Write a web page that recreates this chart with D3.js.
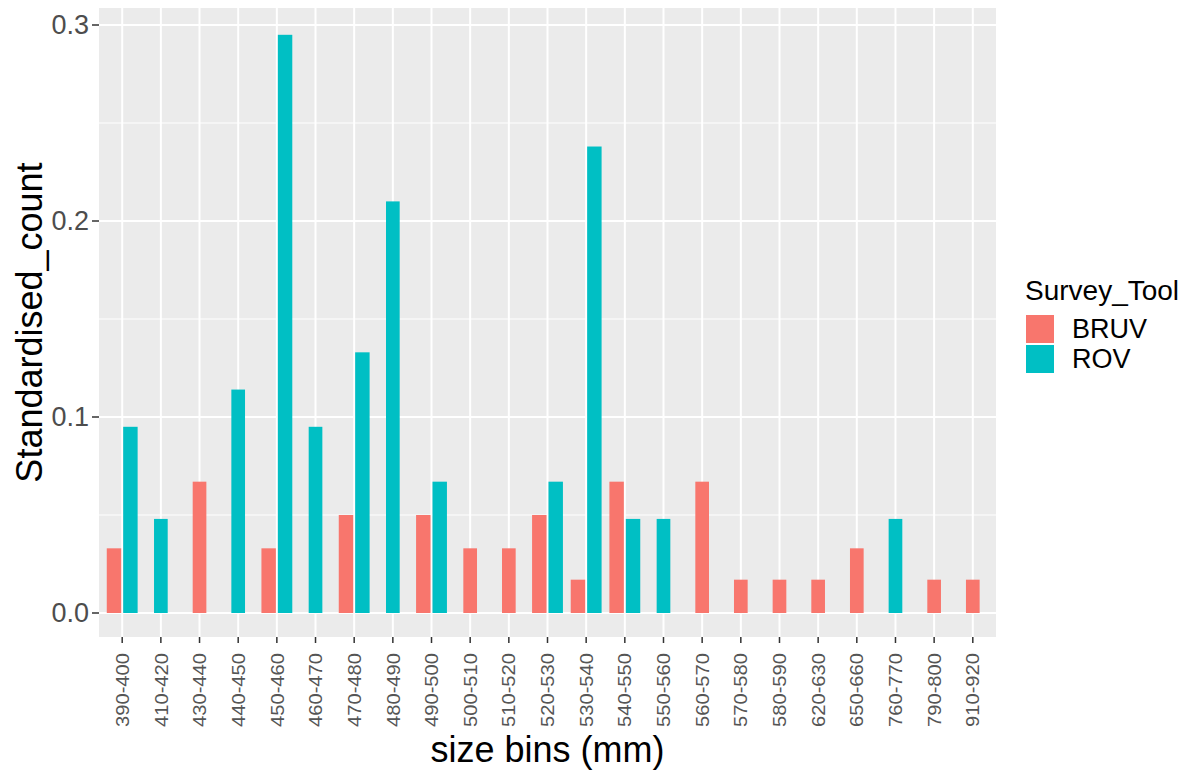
<!DOCTYPE html>
<html>
<head>
<meta charset="utf-8">
<script src="https://cdn.jsdelivr.net/npm/d3@7"></script>
<style>
  html, body { margin: 0; padding: 0; background: #fff; }
  svg { display: block; font-family: "Liberation Sans", Arial, sans-serif; }
</style>
</head>
<body>
<svg id="chart" width="1190" height="771"></svg>
<script>
const categories = ["390-400","410-420","430-440","440-450","450-460","460-470","470-480","480-490","490-500","500-510","510-520","520-530","530-540","540-550","550-560","560-570","570-580","580-590","620-630","650-660","760-770","790-800","910-920"];
const seriesNames = ["BRUV", "ROV"];
const bruvValues = [0.033, null, 0.067, null, 0.033, null, 0.05, null, 0.05, 0.033, 0.033, 0.05, 0.017, 0.067, null, 0.067, 0.017, 0.017, 0.017, 0.033, null, 0.017, 0.017];
const rovValues  = [0.095, 0.048, null, 0.114, 0.295, 0.095, 0.133, 0.21, 0.067, null, null, 0.067, 0.238, 0.048, 0.048, null, null, null, null, null, 0.048, null, null];
const yTicks = [0, 0.1, 0.2, 0.3];
const yTickLabels = ["0.0", "0.1", "0.2", "0.3"];
const yMinorTicks = [0.05, 0.15, 0.25];
const colors = ["#F8766D", "#00BFC4"];

const svg = d3.select("#chart");
const panel = { left: 99, right: 996, top: 8, bottom: 637 };

const x = d3.scalePoint().domain(categories).range([panel.left, panel.right]).padding(0.6);
const step = x.step();
const y = d3.scaleLinear().domain([0, 0.3]).range([613, 25]);
const color = d3.scaleOrdinal().domain(seriesNames).range(colors);

// panel background
svg.append("rect")
  .attr("x", panel.left).attr("y", panel.top)
  .attr("width", panel.right - panel.left).attr("height", panel.bottom - panel.top)
  .attr("fill", "#EBEBEB");

const grid = svg.append("g");
grid.selectAll("line.minor").data(yMinorTicks).join("line")
  .attr("x1", panel.left).attr("x2", panel.right)
  .attr("y1", d => y(d)).attr("y2", d => y(d))
  .attr("stroke", "#fff").attr("stroke-width", 1);
grid.selectAll("line.majory").data(yTicks).join("line")
  .attr("x1", panel.left).attr("x2", panel.right)
  .attr("y1", d => y(d)).attr("y2", d => y(d))
  .attr("stroke", "#fff").attr("stroke-width", 2);
grid.selectAll("line.majorx").data(categories).join("line")
  .attr("y1", panel.top).attr("y2", panel.bottom)
  .attr("x1", d => x(d)).attr("x2", d => x(d))
  .attr("stroke", "#fff").attr("stroke-width", 2);

// bars (dodge2, preserve single)
const rows = categories.map((c, i) => {
  const vals = [bruvValues[i], rovValues[i]];
  const present = seriesNames.filter((s, k) => vals[k] != null);
  const sub = d3.scaleBand().domain(present)
    .range([x(c) - present.length * 0.225 * step, x(c) + present.length * 0.225 * step])
    .padding(0.12);
  return present.map(s => ({ cat: c, series: s, value: vals[seriesNames.indexOf(s)], sub }));
}).flat();

svg.append("g").selectAll("rect").data(rows).join("rect")
  .attr("x", d => d.sub(d.series))
  .attr("width", d => d.sub.bandwidth())
  .attr("y", d => y(d.value))
  .attr("height", d => y(0) - y(d.value))
  .attr("fill", d => color(d.series));

// y axis
const yAxis = svg.append("g");
yAxis.selectAll("line").data(yTicks).join("line")
  .attr("x1", 92).attr("x2", panel.left)
  .attr("y1", d => y(d)).attr("y2", d => y(d))
  .attr("stroke", "#333").attr("stroke-width", 1.5);
yAxis.selectAll("text").data(yTicks).join("text")
  .attr("x", 89).attr("y", d => y(d))
  .attr("dy", "0.35em")
  .attr("text-anchor", "end")
  .attr("font-size", 27)
  .attr("fill", "#4D4D4D")
  .text((d, i) => yTickLabels[i]);

// x axis
const xAxis = svg.append("g");
xAxis.selectAll("line").data(categories).join("line")
  .attr("x1", d => x(d)).attr("x2", d => x(d))
  .attr("y1", panel.bottom).attr("y2", panel.bottom + 6)
  .attr("stroke", "#333").attr("stroke-width", 1.5);
xAxis.selectAll("text").data(categories).join("text")
  .attr("transform", d => `translate(${x(d)},${panel.bottom + 16}) rotate(-90)`)
  .attr("dy", "0.35em")
  .attr("text-anchor", "end")
  .attr("font-size", 19)
  .attr("textLength", 74)
  .attr("lengthAdjust", "spacingAndGlyphs")
  .attr("fill", "#555")
  .text(d => d);

// axis titles
svg.append("text")
  .attr("x", (panel.left + panel.right) / 2).attr("y", 762)
  .attr("text-anchor", "middle")
  .attr("font-size", 36)
  .attr("fill", "#000")
  .text("size bins (mm)");
svg.append("text")
  .attr("transform", `translate(42,${(panel.top + panel.bottom) / 2}) rotate(-90)`)
  .attr("text-anchor", "middle")
  .attr("font-size", 36)
  .attr("fill", "#000")
  .text("Standardised_count");

// legend
const legend = svg.append("g");
legend.append("text")
  .attr("x", 1025).attr("y", 300)
  .attr("font-size", 28)
  .attr("fill", "#000")
  .text("Survey_Tool");
const items = legend.selectAll("g.item").data(seriesNames).join("g")
  .attr("transform", (d, i) => `translate(1026,${315 + i * 30})`);
items.append("rect")
  .attr("width", 28).attr("height", 28)
  .attr("fill", d => color(d));
items.append("text")
  .attr("x", 46).attr("y", 14).attr("dy", "0.35em")
  .attr("font-size", 27)
  .attr("fill", "#000")
  .text(d => d);
</script>
</body>
</html>
